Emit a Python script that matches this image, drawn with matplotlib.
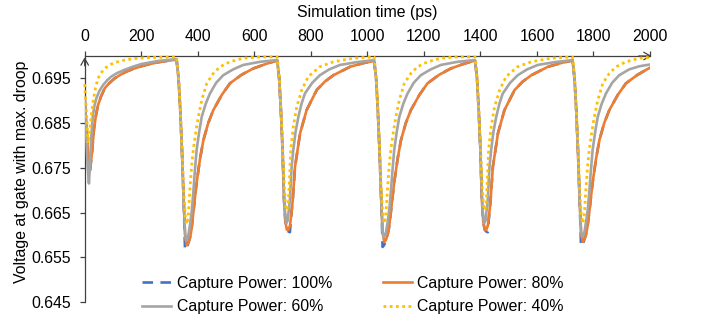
import matplotlib
matplotlib.use("Agg")
import matplotlib.pyplot as plt
from matplotlib import rcParams

rcParams['font.family'] = ['Liberation Sans', 'DejaVu Sans']
rcParams['font.size'] = 11.4

# ---- data (time in ps, voltage in V) ----
# 100% and 80% share the same sample times
t_p100_80 = [0, 6, 12, 19, 26, 33, 40, 47, 58, 71, 88, 106, 126, 147, 175, 200, 230, 260, 290,
             325, 332, 338, 344, 350, 355, 361, 367, 373, 378, 384, 390, 396, 408, 420, 437, 455, 485, 514, 555, 596, 640,
             681, 688, 694, 700, 705, 710, 715, 720, 726, 731, 736, 744, 752, 762, 785, 821, 850, 880, 939, 985,
             1024, 1031, 1037, 1043, 1049, 1054, 1060, 1066, 1072, 1077, 1083, 1089, 1095, 1107, 1119, 1136, 1154, 1184, 1213, 1254, 1295, 1339,
             1381, 1388, 1394, 1400, 1405, 1410, 1415, 1420, 1426, 1431, 1436, 1444, 1452, 1462, 1485, 1521, 1550, 1580, 1639, 1690,
             1726, 1733, 1739, 1745, 1751, 1756, 1762, 1768, 1774, 1779, 1785, 1791, 1797, 1809, 1821, 1838, 1856, 1886, 1915, 1956, 2000]

v_p80 = [0.6906, 0.6840, 0.6780, 0.6745, 0.6785, 0.6838, 0.6868, 0.6890, 0.6910, 0.6928, 0.6940, 0.6950, 0.6958, 0.6965, 0.6972, 0.6977, 0.6982, 0.6986, 0.6989,
         0.6992, 0.6950, 0.6880, 0.6790, 0.6680, 0.6600, 0.6577, 0.6582, 0.6595, 0.6613, 0.6648, 0.6683, 0.6717, 0.6770, 0.6812, 0.6850, 0.6879, 0.6913, 0.6939, 0.6958, 0.6972, 0.6982,
         0.6990, 0.6950, 0.6880, 0.6790, 0.6680, 0.6630, 0.6612, 0.6611, 0.6620, 0.6645, 0.6678, 0.6752, 0.6785, 0.6827, 0.6879, 0.6924, 0.6943, 0.6957, 0.6976, 0.6984,
         0.6989, 0.6950, 0.6880, 0.6790, 0.6680, 0.6605, 0.6584, 0.6589, 0.6601, 0.6618, 0.6650, 0.6684, 0.6717, 0.6770, 0.6812, 0.6850, 0.6879, 0.6913, 0.6939, 0.6958, 0.6972, 0.6982,
         0.6990, 0.6950, 0.6880, 0.6790, 0.6680, 0.6630, 0.6612, 0.6611, 0.6620, 0.6645, 0.6678, 0.6752, 0.6785, 0.6827, 0.6879, 0.6924, 0.6943, 0.6957, 0.6976, 0.6985,
         0.6990, 0.6950, 0.6880, 0.6790, 0.6680, 0.6607, 0.6585, 0.6590, 0.6602, 0.6619, 0.6650, 0.6684, 0.6717, 0.6770, 0.6812, 0.6850, 0.6879, 0.6913, 0.6939, 0.6958, 0.6974]

v_p100 = [0.6906, 0.6840, 0.6780, 0.6745, 0.6785, 0.6838, 0.6868, 0.6890, 0.6910, 0.6928, 0.6940, 0.6950, 0.6958, 0.6965, 0.6972, 0.6977, 0.6982, 0.6986, 0.6989,
          0.6992, 0.6950, 0.6880, 0.6790, 0.6680, 0.6566, 0.6572, 0.6582, 0.6595, 0.6613, 0.6648, 0.6683, 0.6717, 0.6770, 0.6812, 0.6850, 0.6879, 0.6913, 0.6939, 0.6958, 0.6972, 0.6982,
          0.6990, 0.6950, 0.6880, 0.6790, 0.6680, 0.6630, 0.6612, 0.6608, 0.6606, 0.6645, 0.6678, 0.6752, 0.6785, 0.6827, 0.6879, 0.6924, 0.6943, 0.6957, 0.6976, 0.6984,
          0.6989, 0.6950, 0.6880, 0.6790, 0.6680, 0.6573, 0.6578, 0.6589, 0.6601, 0.6618, 0.6650, 0.6684, 0.6717, 0.6770, 0.6812, 0.6850, 0.6879, 0.6913, 0.6939, 0.6958, 0.6972, 0.6982,
          0.6990, 0.6950, 0.6880, 0.6790, 0.6680, 0.6630, 0.6612, 0.6608, 0.6606, 0.6645, 0.6678, 0.6752, 0.6785, 0.6827, 0.6879, 0.6924, 0.6943, 0.6957, 0.6976, 0.6985,
          0.6990, 0.6950, 0.6880, 0.6790, 0.6680, 0.6575, 0.6579, 0.6590, 0.6602, 0.6619, 0.6650, 0.6684, 0.6717, 0.6770, 0.6812, 0.6850, 0.6879, 0.6913, 0.6939, 0.6958, 0.6974]

t_p60 = [0, 5, 10, 15, 19, 23, 29, 35, 41, 52, 65, 80, 94, 115, 141, 170, 200, 260,
         325, 332, 338, 344, 350, 355, 358, 362, 367, 373, 379, 384, 390, 396, 405, 414, 428, 443, 465, 490, 525, 561, 620,
         681, 688, 694, 700, 705, 709, 713, 718, 726, 732, 738, 746, 756, 767, 779, 805, 832, 865, 903, 960,
         1024, 1031, 1037, 1043, 1049, 1054, 1057, 1061, 1066, 1072, 1078, 1083, 1089, 1095, 1104, 1113, 1127, 1142, 1164, 1189, 1224, 1260, 1319,
         1381, 1388, 1394, 1400, 1405, 1409, 1413, 1418, 1426, 1432, 1438, 1446, 1456, 1467, 1479, 1505, 1532, 1565, 1603, 1660,
         1726, 1733, 1739, 1745, 1751, 1756, 1759, 1763, 1768, 1774, 1780, 1785, 1791, 1797, 1806, 1815, 1829, 1844, 1866, 1891, 1926, 1962, 2000]

v_p60 = [0.6906, 0.6830, 0.6755, 0.6715, 0.6760, 0.6816, 0.6868, 0.6890, 0.6905, 0.6922, 0.6935, 0.6946, 0.6954, 0.6962, 0.6969, 0.6976, 0.6982, 0.6989,
         0.6993, 0.6950, 0.6880, 0.6790, 0.6680, 0.6605, 0.6588, 0.6590, 0.6600, 0.6625, 0.6655, 0.6693, 0.6745, 0.6790, 0.6830, 0.6864, 0.6893, 0.6916, 0.6940, 0.6957, 0.6970, 0.6980, 0.6987,
         0.6991, 0.6950, 0.6880, 0.6790, 0.6690, 0.6645, 0.6626, 0.6632, 0.6678, 0.6752, 0.6790, 0.6830, 0.6864, 0.6893, 0.6916, 0.6940, 0.6957, 0.6970, 0.6980, 0.6986,
         0.6991, 0.6950, 0.6880, 0.6790, 0.6680, 0.6608, 0.6595, 0.6597, 0.6606, 0.6630, 0.6658, 0.6695, 0.6745, 0.6790, 0.6830, 0.6864, 0.6893, 0.6916, 0.6940, 0.6957, 0.6970, 0.6980, 0.6987,
         0.6991, 0.6950, 0.6880, 0.6790, 0.6690, 0.6645, 0.6626, 0.6632, 0.6678, 0.6752, 0.6790, 0.6830, 0.6864, 0.6893, 0.6916, 0.6940, 0.6957, 0.6970, 0.6980, 0.6986,
         0.6991, 0.6950, 0.6880, 0.6790, 0.6680, 0.6608, 0.6596, 0.6598, 0.6606, 0.6630, 0.6658, 0.6695, 0.6745, 0.6790, 0.6830, 0.6864, 0.6893, 0.6916, 0.6940, 0.6957, 0.6970, 0.6977, 0.6981]

t_p40 = [0, 6, 12, 17, 23, 30, 38, 47, 60, 75, 90, 110, 135, 170, 210, 260,
         325, 332, 338, 344, 350, 356, 361, 366, 372, 378, 384, 393, 402, 414, 432, 455, 479, 514, 561, 620,
         681, 688, 694, 700, 706, 711, 715, 720, 725, 729, 738, 750, 768, 791, 832, 880, 950,
         1024, 1031, 1037, 1043, 1049, 1055, 1060, 1065, 1071, 1077, 1083, 1092, 1101, 1113, 1131, 1154, 1178, 1213, 1260, 1319,
         1381, 1388, 1394, 1400, 1406, 1411, 1415, 1420, 1425, 1429, 1438, 1450, 1468, 1491, 1532, 1580, 1650,
         1726, 1733, 1739, 1745, 1751, 1757, 1762, 1767, 1773, 1779, 1785, 1794, 1803, 1815, 1833, 1856, 1880, 1915, 1962, 2000]

v_p40 = [0.6937, 0.6875, 0.6805, 0.6830, 0.6865, 0.6900, 0.6928, 0.6950, 0.6964, 0.6974, 0.6981, 0.6986, 0.6990, 0.6994, 0.6996, 0.6997,
         0.6998, 0.6955, 0.6885, 0.6800, 0.6700, 0.6640, 0.6624, 0.6638, 0.6700, 0.6752, 0.6790, 0.6830, 0.6864, 0.6901, 0.6939, 0.6961, 0.6976, 0.6987, 0.6995, 0.6998,
         0.6998, 0.6955, 0.6885, 0.6800, 0.6710, 0.6665, 0.6655, 0.6663, 0.6730, 0.6790, 0.6842, 0.6886, 0.6924, 0.6954, 0.6976, 0.6987, 0.6995,
         0.6998, 0.6955, 0.6885, 0.6800, 0.6700, 0.6642, 0.6626, 0.6640, 0.6700, 0.6752, 0.6790, 0.6830, 0.6864, 0.6901, 0.6939, 0.6961, 0.6976, 0.6987, 0.6995, 0.6998,
         0.6998, 0.6955, 0.6885, 0.6800, 0.6710, 0.6665, 0.6655, 0.6663, 0.6730, 0.6790, 0.6842, 0.6886, 0.6924, 0.6954, 0.6976, 0.6987, 0.6995,
         0.6998, 0.6955, 0.6885, 0.6800, 0.6700, 0.6642, 0.6626, 0.6640, 0.6700, 0.6752, 0.6790, 0.6830, 0.6864, 0.6901, 0.6939, 0.6961, 0.6976, 0.6987, 0.6995, 0.6997]

labels = ["Capture Power: 100%", "Capture Power: 80%", "Capture Power: 60%", "Capture Power: 40%"]
x_ticks = [0, 200, 400, 600, 800, 1000, 1200, 1400, 1600, 1800, 2000]
y_ticks = [0.645, 0.655, 0.665, 0.675, 0.685, 0.695]

fig = plt.figure(figsize=(7.08, 3.18), dpi=100)
ax = fig.add_axes([84.7 / 708, 1 - 302 / 318, (650 - 84.7) / 708, (302 - 56) / 318])

axcol = '#404040'
l100, = ax.plot(t_p100_80, v_p100, color='#4472C4', lw=1.9, linestyle=(0, (4, 2.8)), zorder=2)
l80, = ax.plot(t_p100_80, v_p80, color='#ED7D31', lw=1.9, zorder=3)
l60, = ax.plot(t_p60, v_p60, color='#A5A5A5', lw=1.9, zorder=4)
l40, = ax.plot(t_p40, v_p40, color='#FFC000', lw=2.0, linestyle=(0, (1, 1.25)), zorder=5, clip_on=False)

ax.set_xlim(0, 2000)
ax.set_ylim(0.645, 0.700)
ax.set_xticks(x_ticks)
ax.set_yticks(y_ticks)
ax.set_yticklabels([f"{v:.3f}" for v in y_ticks])

ax.xaxis.tick_top()
ax.xaxis.set_label_position('top')
ax.set_xlabel("Simulation time (ps)", labelpad=9)
ax.set_ylabel("Voltage at gate with max. droop")
ax.yaxis.set_label_coords(-0.099, 0.528)

for s in ['right', 'bottom']:
    ax.spines[s].set_visible(False)
for s in ['top', 'left']:
    ax.spines[s].set_color(axcol)
    ax.spines[s].set_linewidth(0.9)
ax.tick_params(axis='x', direction='out', length=3.6, width=0.9, color=axcol, pad=5)
ax.tick_params(axis='y', direction='out', length=3.6, width=0.9, color=axcol, pad=6)

# arrow heads on the axes
arr = dict(arrowstyle='->,head_length=0.48,head_width=0.27', color=axcol, lw=0.9, mutation_scale=10,
           shrinkA=0, shrinkB=0)
ax.annotate('', xy=(1.003, 1), xytext=(0.98, 1), xycoords='axes fraction', arrowprops=arr)
ax.annotate('', xy=(0, 0.995), xytext=(0, 0.96), xycoords='axes fraction', arrowprops=arr)

ax.legend([l100, l60, l80, l40], [labels[0], labels[2], labels[1], labels[3]], ncol=2,
          loc='center', bbox_to_anchor=(0.4745, 0.028), frameon=False, borderpad=0,
          handlelength=1.85, handletextpad=0.33, columnspacing=3.2, labelspacing=0.55)

fig.savefig('out.png', dpi=100)
